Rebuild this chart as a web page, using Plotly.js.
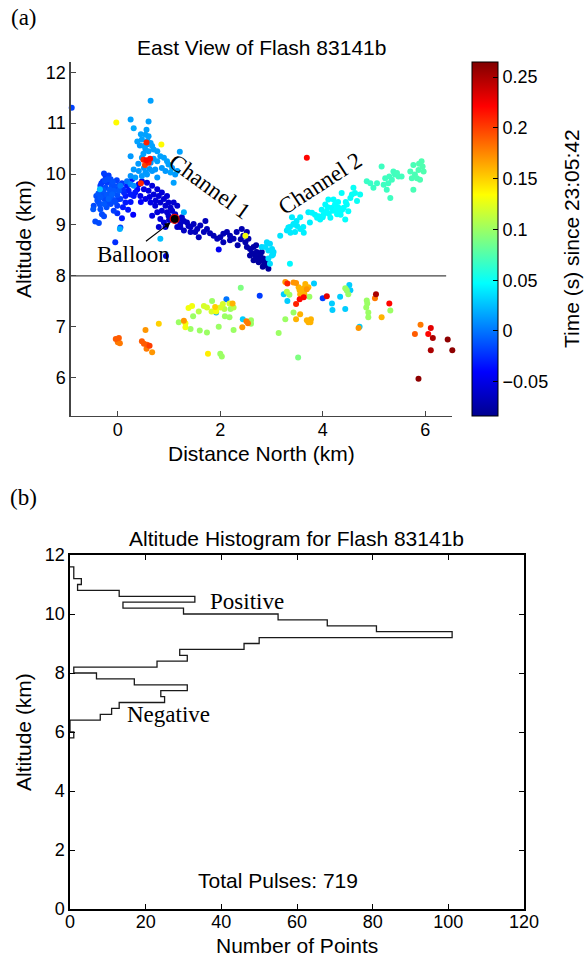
<!DOCTYPE html>
<html>
<head>
<meta charset="utf-8">
<script src="https://cdn.plot.ly/plotly-3.0.1.min.js"></script>
<style>
  html, body { margin: 0; padding: 0; background: #fff; }
  #chart { width: 588px; height: 959px; }
</style>
</head>
<body>
<div id="chart"></div>
<script>
// ---------------- Panel (a): pulse locations ----------------
// Distance North (km), Altitude (km), time (s) since 23:05:42
const distNorth = [
  // channel 1, dark blue band
  0.47,0.57,0.67,0.77,0.70,0.80,0.86,0.90,0.96,0.99,0.83,0.73,0.64,0.54,0.44,0.51,0.41,0.60,0.93,1.03,
  1.09,1.16,1.06,0.96,0.86,0.77,0.67,0.83,0.90,0.99,1.12,1.19,1.22,1.29,1.35,1.42,1.48,1.55,1.61,1.51,
  1.42,1.29,1.22,1.16,1.58,1.68,1.71,1.74,1.87,1.94,2.00,2.06,2.13,2.19,2.26,2.32,2.42,2.45,2.52,2.55,
  2.49,2.58,2.65,2.71,2.78,2.84,2.88,2.91,2.94,2.81,2.75,2.68,1.97,0.93,0.80,2.65,2.83,2.90,2.52,2.58,
  2.34,2.19,2.06,0.94,0.62,0.74,1.00,1.25,1.38,2.72,2.86,2.79,2.70,2.62,2.40,1.80,
  // channel 1, medium blue cluster
  -0.27,-0.24,-0.18,-0.14,-0.29,-0.21,-0.11,-0.08,-0.34,-0.24,-0.16,-0.05,0.02,-0.31,-0.21,-0.11,-0.01,-0.34,-0.26,-0.18,
  -0.08,0.05,0.15,0.12,0.21,0.18,0.08,0.25,0.31,0.34,-0.37,-0.27,-0.14,-0.01,-0.34,-0.08,-0.48,-0.31,-0.44,-0.37,
  -0.01,0.08,0.05,-0.05,0.15,0.25,0.38,0.28,-0.47,-0.42,-0.32,-0.08,-0.20,-0.12,-0.28,-0.15,-0.05,-0.22,0.10,0.20,
  0.02,-0.40,0.30,0.45,-0.27,-0.90,
  -0.25,-0.10,-0.30,-0.20,-0.35,0.00,-0.12,-0.02,-0.38,0.10,
  // channel 1, upper light-blue branch
  0.64,0.25,0.60,0.31,0.56,0.54,0.60,0.38,0.47,0.43,0.51,0.57,0.64,0.67,0.54,0.60,0.70,0.77,0.25,0.47,
  0.83,0.90,0.64,0.77,0.96,0.99,0.86,1.06,1.16,1.12,1.09,0.31,0.41,0.51,0.54,0.67,0.73,0.25,0.34,0.47,
  0.57,0.18,0.25,0.05,0.31,0.77,1.03,0.93,1.29,0.83,0.04,-0.35,1.21,
  0.50,0.58,0.45,0.70,0.40,0.62,
  // channel 1, cyan end
  2.91,2.97,3.01,2.94,2.88,3.04,3.01,2.94,2.97,2.81,
  // channel 2
  3.17,3.30,3.36,3.43,3.49,3.56,3.40,3.46,3.56,3.62,3.72,3.75,3.36,3.01,3.03,3.33,3.43,3.50,3.37,3.63,
  3.79,3.92,3.95,4.02,4.08,4.11,4.18,4.24,4.31,4.34,4.41,4.47,4.54,4.60,4.63,4.67,4.73,4.44,4.37,4.15,
  4.05,4.28,4.50,3.98,4.21,4.57,3.89,4.12,4.20,4.26,4.38,4.30,4.45,4.10,3.85,4.00,4.35,
  // channel 2, far end
  4.86,4.93,4.99,5.06,5.15,5.22,5.28,5.32,5.35,5.38,5.41,5.48,5.54,5.25,5.19,5.71,5.77,5.80,5.84,5.87,
  5.93,5.97,5.90,5.77,5.74,5.45,5.30,5.95,5.88,
  // late pulses above 8 km
  0.56,0.50,0.56,0.60,0.53,0.63,0.45,3.69,-0.03,0.85,2.49,
  // negative region (below 8 km)
  -0.04,0.02,0.00,0.04,0.47,0.51,0.57,0.62,0.56,0.67,0.54,0.80,1.19,1.32,1.32,1.42,1.29,1.38,1.45,1.47,
  1.58,1.60,1.68,1.74,1.74,1.83,1.84,1.76,1.90,1.92,2.00,2.05,2.08,2.12,1.92,2.18,2.26,2.24,2.20,2.09,
  2.18,1.97,2.00,2.03,2.26,2.40,2.44,2.43,2.51,2.54,2.60,2.60,2.77,3.14,3.27,3.31,3.30,3.35,3.24,3.31,
  3.27,3.43,3.43,3.48,3.48,3.53,3.55,3.56,3.59,3.63,3.66,3.64,3.69,3.72,3.55,3.63,3.56,3.48,3.52,3.69,
  3.72,3.77,3.76,3.74,3.83,4.00,4.08,4.18,4.19,4.34,4.44,4.47,4.44,4.48,4.52,4.54,4.50,4.72,4.70,4.86,
  4.87,4.85,4.89,4.89,5.04,5.02,5.15,5.30,5.32,5.80,5.91,6.06,6.11,6.15,6.11,6.44,6.53,5.87
];
const altitude = [
  9.86,9.83,9.77,9.70,9.60,9.57,9.64,9.51,9.57,9.44,9.44,9.38,9.44,9.51,9.57,9.70,9.80,9.67,9.38,9.34,
  9.44,9.38,9.28,9.25,9.28,9.25,9.18,9.12,9.05,9.18,9.21,9.12,9.02,9.08,9.05,8.96,9.02,8.92,8.99,8.86,
  8.86,8.89,8.96,8.96,8.76,8.86,9.08,8.92,8.79,8.73,8.76,8.83,8.86,8.79,8.73,8.86,8.92,8.79,8.86,8.73,
  8.66,8.53,8.57,8.47,8.40,8.34,8.27,8.21,8.14,8.47,8.27,8.40,8.52,8.96,8.96,8.31,8.18,8.31,8.57,8.40,
  8.60,8.70,8.66,8.39,9.55,9.48,9.10,9.15,8.98,8.35,8.22,8.30,8.60,8.45,8.72,8.84,
  10.01,9.96,9.97,9.90,9.86,9.83,9.80,9.77,9.77,9.73,9.69,9.70,9.67,9.64,9.60,9.60,9.59,9.54,9.51,9.51,
  9.49,9.51,9.57,9.64,9.67,9.77,9.82,9.60,9.57,9.64,9.44,9.41,9.41,9.38,9.31,9.28,9.31,9.21,9.07,9.04,
  9.23,9.13,8.95,8.66,9.44,9.45,9.70,9.90,9.38,9.57,9.82,9.67,9.90,9.75,9.68,9.55,9.45,9.35,9.35,9.30,
  9.78,9.48,9.20,9.45,9.17,11.30,
  9.88,9.85,9.58,9.45,9.40,9.50,9.62,9.88,9.62,9.70,
  11.44,11.07,11.03,10.90,10.87,10.77,10.74,10.64,10.68,10.56,10.55,10.58,10.61,10.55,10.48,10.45,10.48,10.45,10.35,10.32,
  10.35,10.32,10.22,10.25,10.25,10.19,10.12,10.12,10.06,9.99,9.83,10.09,10.06,10.12,10.03,10.06,10.09,9.96,9.93,9.96,
  9.99,9.86,9.80,9.77,9.77,9.93,10.03,10.06,9.25,8.73,8.92,9.70,10.44,
  10.40,10.65,10.78,10.30,10.20,10.10,
  8.66,8.63,8.53,8.50,8.57,8.47,8.40,8.34,8.24,8.57,
  8.79,8.89,8.96,9.02,9.08,9.15,9.15,8.86,8.92,8.96,9.25,9.05,8.24,8.49,8.42,8.95,9.01,8.98,8.85,8.85,
  9.24,9.17,9.11,9.21,9.27,9.50,9.34,9.40,9.34,9.27,9.34,9.40,9.53,9.73,9.63,9.47,9.60,9.11,9.63,9.14,
  9.40,9.21,9.27,9.30,9.50,9.60,9.14,9.22,9.28,9.30,9.30,9.45,9.45,9.35,9.20,9.15,9.20,
  9.86,9.82,9.73,9.82,10.15,9.92,9.82,9.53,9.89,10.05,9.99,9.95,9.95,9.69,9.79,10.05,10.18,9.99,9.92,10.08,
  10.25,10.05,9.89,9.69,9.92,10.02,9.95,10.15,10.20,
  10.62,10.28,10.27,10.22,10.18,10.30,9.82,10.32,11.01,10.58,8.79,
  6.76,6.78,6.70,6.68,6.72,6.67,6.65,6.63,6.57,6.50,6.94,7.06,7.09,7.07,6.99,6.96,7.12,7.37,7.41,7.21,
  7.30,6.93,7.41,7.38,6.89,7.30,7.51,6.47,7.39,7.30,7.38,7.45,7.35,7.54,7.28,7.46,7.38,7.46,7.35,7.21,
  7.19,7.00,6.47,6.42,6.94,7.77,7.15,6.99,7.11,7.07,7.06,7.13,7.61,6.88,7.88,7.85,7.69,7.63,7.64,7.51,
  7.15,7.28,7.87,7.86,7.45,7.78,7.72,7.64,7.67,7.76,7.84,7.65,7.74,7.78,7.54,7.58,7.25,7.15,6.40,7.13,
  7.09,7.15,7.09,7.59,7.85,7.56,7.60,7.46,7.33,7.59,7.76,7.72,7.35,7.71,7.82,7.72,7.64,7.00,6.98,7.52,
  7.46,7.38,7.28,7.19,7.64,7.56,7.19,7.46,7.32,6.86,7.04,6.86,6.98,6.78,6.54,6.75,6.54,5.98
];
const pulseTime = [
  -0.052,-0.052,-0.055,-0.055,-0.055,-0.056,-0.055,-0.057,-0.056,-0.058,-0.058,-0.055,-0.050,-0.050,-0.048,-0.050,-0.048,-0.052,-0.058,-0.060,
  -0.058,-0.060,-0.060,-0.058,-0.057,-0.055,-0.052,-0.056,-0.058,-0.060,-0.062,-0.063,-0.063,-0.064,-0.065,-0.065,-0.066,-0.066,-0.066,-0.066,
  -0.065,-0.064,-0.063,-0.062,-0.067,-0.067,-0.067,-0.067,-0.068,-0.068,-0.069,-0.069,-0.070,-0.070,-0.070,-0.071,-0.071,-0.072,-0.072,-0.072,
  -0.072,-0.074,-0.074,-0.075,-0.076,-0.077,-0.078,-0.079,-0.080,-0.076,-0.077,-0.075,-0.045,-0.060,-0.058,-0.077,-0.079,-0.078,-0.073,-0.075,
  -0.072,-0.070,-0.069,-0.060,-0.052,-0.055,-0.060,-0.062,-0.064,-0.076,-0.078,-0.077,-0.075,-0.075,-0.071,-0.068,
  -0.020,-0.025,-0.020,-0.015,-0.025,-0.020,-0.015,-0.013,-0.020,-0.015,-0.010,-0.015,-0.010,-0.015,-0.010,-0.007,-0.013,-0.010,-0.015,-0.007,
  -0.015,-0.020,-0.032,-0.027,-0.032,-0.032,-0.020,-0.032,-0.034,-0.034,-0.015,-0.010,-0.015,-0.020,-0.013,-0.020,-0.010,-0.015,-0.015,-0.015,
  -0.025,-0.034,-0.015,-0.025,-0.032,-0.034,-0.040,-0.034,-0.015,-0.013,-0.020,-0.010,-0.015,-0.013,-0.010,-0.010,-0.015,-0.013,-0.032,-0.034,
  -0.015,-0.013,-0.040,-0.040,-0.015,-0.018,
  -0.015,-0.012,-0.012,-0.015,-0.012,-0.020,-0.010,-0.018,-0.010,-0.025,
  0.015,0.015,0.015,0.018,0.015,0.015,0.015,0.015,0.015,0.012,0.015,0.015,0.015,0.015,0.012,0.015,0.015,0.015,0.012,0.015,
  0.015,0.015,0.012,0.015,0.015,0.015,0.012,0.015,0.015,0.012,0.015,0.012,0.012,0.012,0.012,0.012,0.012,0.010,0.012,0.012,
  0.012,0.000,0.005,0.000,0.008,0.012,0.015,0.012,0.020,0.025,0.020,0.025,0.015,
  0.015,0.015,0.015,0.015,0.012,0.012,
  0.035,0.035,0.035,0.035,0.035,0.035,0.035,0.035,0.035,0.033,
  0.038,0.038,0.040,0.040,0.040,0.042,0.040,0.040,0.042,0.042,0.042,0.042,0.045,0.036,0.036,0.040,0.040,0.040,0.040,0.042,
  0.044,0.045,0.045,0.046,0.046,0.046,0.046,0.047,0.047,0.047,0.047,0.048,0.048,0.050,0.050,0.050,0.050,0.048,0.048,0.046,
  0.046,0.047,0.048,0.045,0.047,0.049,0.045,0.046,0.046,0.047,0.047,0.047,0.048,0.046,0.044,0.045,0.047,
  0.066,0.066,0.067,0.067,0.068,0.068,0.068,0.068,0.069,0.069,0.069,0.070,0.070,0.068,0.068,0.072,0.072,0.072,0.073,0.073,
  0.074,0.074,0.073,0.072,0.072,0.070,0.069,0.074,0.074,
  0.210,0.210,0.220,0.210,0.200,0.220,0.210,0.220,0.135,0.135,0.130,
  0.190,0.190,0.180,0.180,0.190,0.190,0.190,0.200,0.180,0.170,0.170,0.150,0.100,0.130,0.130,0.100,0.170,0.130,0.130,0.100,
  0.110,0.100,0.120,0.120,0.100,0.120,0.100,0.140,0.150,0.130,0.120,0.120,0.110,0.000,0.020,0.120,0.110,0.160,0.100,0.100,
  0.100,0.100,0.100,0.100,0.100,0.090,0.030,0.170,0.180,0.180,0.100,0.100,-0.020,0.100,0.170,0.210,0.110,0.100,0.030,0.030,
  0.100,0.100,0.170,0.170,0.210,0.160,0.160,0.160,0.160,0.160,0.160,0.160,0.170,0.160,0.220,0.220,0.160,0.160,0.090,0.160,
  0.160,0.160,0.160,0.100,0.030,-0.020,0.230,0.030,0.030,0.030,0.100,0.100,0.030,0.030,0.030,0.030,0.100,0.030,0.170,0.100,
  0.100,0.100,0.100,0.100,0.250,0.180,0.160,0.220,0.100,0.190,0.180,0.220,0.230,0.250,0.250,0.260,0.260,0.260
];
const balloonNorth = [1.11];
const balloonAlt = [9.12];
const timeMin = -0.0837, timeMax = 0.2648;
const cbTickVals = [-0.05, 0, 0.05, 0.1, 0.15, 0.2, 0.25];
const cbTickText = ['\u22120.05', '0', '0.05', '0.1', '0.15', '0.2', '0.25'];

// ---------------- Panel (b): altitude histogram ----------------
const binWidth = 0.2;
const histBinLow = [5.8,6.0,6.2,6.4,6.6,6.8,7.0,7.2,7.4,7.6,7.8,8.0,8.2,8.4,8.6,8.8,9.0,9.2,9.4,9.6,9.8,10.0,10.2,10.4,10.6,10.8,11.0,11.2,11.4];
const histCounts = [1,0,0,8,11,13,25,24,31,17,7,1,23,31,29,46,50,101,81,68,55,30,14,33,13,2,3,1,1];
const totalPulses = 719;

// ---------------- build ----------------
const jet = [[0,'#00008f'],[0.125,'#0000ff'],[0.375,'#00ffff'],[0.625,'#ffff00'],[0.875,'#ff0000'],[1,'#800000']];

// draw later pulses on top of earlier ones
const order = pulseTime.map((t,i)=>i).sort((a,b)=>pulseTime[a]-pulseTime[b]);
const sx = order.map(i=>distNorth[i]);
const sy = order.map(i=>altitude[i]);
const st = order.map(i=>pulseTime[i]);

// stair outline of histogram
const hx = [0], hy = [histBinLow[0]];
histBinLow.forEach((lo,i)=>{
  hx.push(histCounts[i], histCounts[i]);
  hy.push(lo, lo + binWidth);
});
hx.push(0); hy.push(histBinLow[histBinLow.length-1] + binWidth);

const SANS = 'Liberation Sans, Arial, Helvetica, sans-serif';
const SERIF = 'Liberation Serif, Times New Roman, serif';

const traces = [
  {
    type:'scatter', mode:'markers', x:sx, y:sy, xaxis:'x', yaxis:'y',
    marker:{size:6, color:st, colorscale:jet, cmin:timeMin, cmax:timeMax,
      line:{width:0},
      colorbar:{
        x:472/588, xanchor:'left', xpad:0, ypad:0,
        y:1-239/959, yanchor:'middle', len:354/959, lenmode:'fraction',
        thickness:26, thicknessmode:'pixels',
        outlinewidth:1, outlinecolor:'#000',
        tickvals:cbTickVals, ticktext:cbTickText,
        ticks:'inside', ticklen:5, tickcolor:'#000', tickwidth:1,
        tickfont:{family:SANS, size:18, color:'#000'},
        title:{text:''}
      }},
    hoverinfo:'skip', showlegend:false, cliponaxis:false
  },
  {
    type:'scatter', mode:'markers', x:balloonNorth, y:balloonAlt, xaxis:'x', yaxis:'y',
    marker:{size:9, color:'#000', line:{color:'#e00000', width:1.2}},
    showlegend:false, hoverinfo:'skip'
  },
  {
    type:'scatter', mode:'lines', x:hx, y:hy, xaxis:'x2', yaxis:'y2',
    line:{color:'#1a1a1a', width:1.3}, showlegend:false, hoverinfo:'skip'
  }
];

const axCommon = {showgrid:false, zeroline:false, ticks:'inside', ticklen:5, tickwidth:1,
  automargin:false, tickfont:{family:SANS, size:18, color:'#000'}};

function lab(xref, yref, x, y, text, font, extra) {
  return Object.assign({xref:xref, yref:yref, x:x, y:y, text:text, showarrow:false,
    xanchor:'center', yanchor:'middle', font:font}, extra || {});
}
const fSans = {family:SANS, size:21, color:'#000'};
const fSerif = {family:SERIF, size:23, color:'#000'};

const layout = {
  width:588, height:959,
  margin:{l:0, r:0, t:0, b:0},
  paper_bgcolor:'#fff', plot_bgcolor:'rgba(0,0,0,0)',
  showlegend:false,
  font:{family:SANS, color:'#000'},
  xaxis:Object.assign({}, axCommon, {domain:[70.7/588, 452.3/588], range:[-0.92, 6.53], anchor:'y',
    tickvals:[0,2,4,6], showline:true, linecolor:'#444', linewidth:1.3, tickcolor:'#444', mirror:false,
    ticklabelstandoff:-3}),
  yaxis:Object.assign({}, axCommon, {domain:[1-416/959, 1-62/959], range:[5.25, 12.2], anchor:'x',
    tickvals:[6,7,8,9,10,11,12], showline:true, linecolor:'#444', linewidth:1.3, tickcolor:'#444', mirror:false}),
  xaxis2:Object.assign({}, axCommon, {domain:[70/588, 524/588], range:[0,120], anchor:'y2',
    tickvals:[0,20,40,60,80,100,120], showline:true, linecolor:'#000', linewidth:1.6, tickcolor:'#000', mirror:'ticks',
    ticklabelstandoff:-4}),
  yaxis2:Object.assign({}, axCommon, {domain:[1-909/959, 1-555/959], range:[0,12], anchor:'x2',
    tickvals:[0,2,4,6,8,10,12], showline:true, linecolor:'#000', linewidth:1.6, tickcolor:'#000', mirror:'ticks'}),
  shapes:[
    {type:'line', xref:'x', yref:'y', x0:-0.92, x1:6.41, y0:8, y1:8, line:{color:'#444', width:1.2}}
  ],
  annotations:[
    // panel labels and titles
    lab('paper','paper', 24/588, 1-18/959, '(a)', fSerif),
    lab('paper','paper', 23/588, 1-497/959, '(b)', fSerif),
    lab('paper','paper', 261.5/588, 1-47/959, 'East View of Flash 83141b', fSans),
    lab('paper','paper', 297/588, 1-538/959, 'Altitude Histogram for Flash 83141b', fSans),
    // axis titles
    lab('paper','paper', 261.5/588, 1-453/959, 'Distance North (km)', fSans),
    lab('paper','paper', 23/588, 1-239/959, 'Altitude (km)', fSans, {textangle:-90}),
    lab('paper','paper', 297/588, 1-945/959, 'Number of Points', fSans),
    lab('paper','paper', 23/588, 1-732/959, 'Altitude (km)', fSans, {textangle:-90}),
    lab('paper','paper', 571/588, 1-239/959, 'Time (s) since 23:05:42', fSans, {textangle:-90}),
    // panel (a) labels
    lab('x','y', 1.79, 9.76, 'Channel 1', fSerif, {textangle:36}),
    lab('x','y', 3.95, 9.82, 'Channel 2', fSerif, {textangle:-33}),
    lab('x','y', 0.30, 8.42, 'Balloon', fSerif),
    {xref:'x', yref:'y', x:1.03, y:9.05, axref:'x', ayref:'y', ax:0.52, ay:8.66, text:'', showarrow:true,
      arrowhead:2, arrowsize:1, arrowwidth:1.2, arrowcolor:'#000'},
    lab('x','y', 6.80, 8.29, 'Positive', fSerif, {xanchor:'right'}),
    lab('x','y', 6.84, 7.69, 'Negative', fSerif, {xanchor:'right'}),
    // panel (b) labels
    lab('x2','y2', 46.7, 10.42, 'Positive', fSerif),
    lab('x2','y2', 26.0, 6.58, 'Negative', fSerif),
    lab('x2','y2', 55.1, 0.98, 'Total Pulses: ' + totalPulses, fSans)
  ]
};

Plotly.newPlot('chart', traces, layout, {staticPlot:true, displayModeBar:false});
</script>
</body>
</html>
